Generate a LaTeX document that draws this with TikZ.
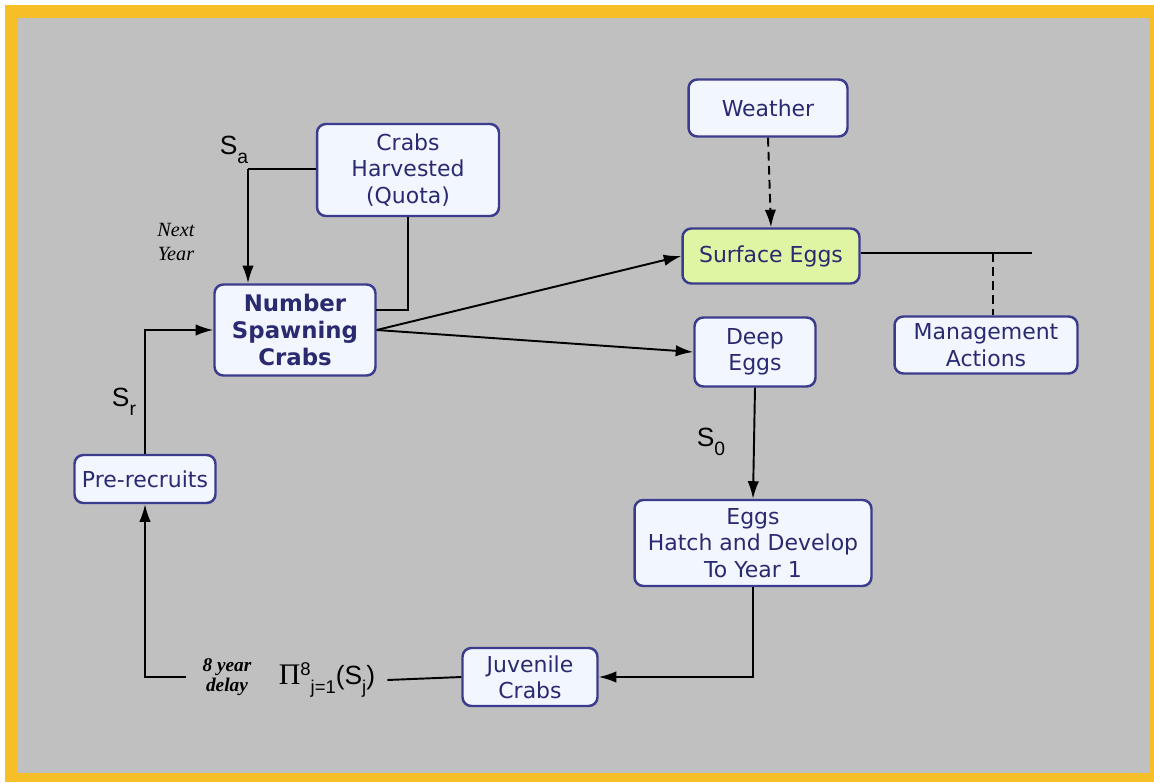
\documentclass[tikz,border=0pt]{standalone}
\usepackage{fontspec}
\setmainfont{DejaVu Sans}
\newfontfamily\lblfont{Liberation Sans}
\newfontfamily\serffont{Liberation Serif}
\usetikzlibrary{arrows.meta}

\definecolor{frameyellow}{HTML}{F6BE27}
\definecolor{panelgray}{HTML}{C0C0C0}
\definecolor{boxline}{HTML}{3C3C8E}
\definecolor{boxfill}{HTML}{F2F6FF}
\definecolor{boxtext}{HTML}{2A2A70}
\definecolor{eggfill}{HTML}{DFF5A4}

\newcommand{\sublab}[2]{{\lblfont\fontsize{15}{15}\selectfont #1\raisebox{-5pt}{\fontsize{11}{11}\selectfont #2}}}

\begin{document}
\begin{tikzpicture}[x=0.02cm, y=-0.02cm,
        box/.style={
        draw=boxline, line width=1.4pt, rounded corners=5pt,
        fill=boxfill, text=boxtext, align=center, inner sep=2pt,
        font=\fontsize{12.5}{15}\selectfont},
        conn/.style={line width=1.1pt, -{Latex[length=10pt,width=6.5pt]}},
        plain/.style={line width=1.1pt},
        longdash/.style={dash pattern=on 5pt off 3pt},
        note/.style={font=\serffont\itshape\fontsize{11.5}{14}\selectfont, align=center, inner sep=1pt},
        ]

        % frame and panel
        \useasboundingbox (0,0) rectangle (1154,782);
        \fill[white] (0,0) rectangle (1154,782);
        \fill[frameyellow] (5,5) rectangle (1154,782);
        \fill[panelgray] (18,18) rectangle (1149,773);

        % boxes
        \node (weather) [box, minimum width=3.18cm, minimum height=1.14cm] at (768,108) {Weather};
        \node (harvest) [box, minimum width=3.64cm, minimum height=1.84cm] at (408,170) {Crabs\\Harvested\\(Quota)};
        \node (surface) [box, fill=eggfill, minimum width=3.54cm, minimum height=1.1cm] at (771,256) {Surface Eggs};
        \node (spawn) [box, font=\bfseries\fontsize{13}{15.5}\selectfont, minimum width=3.22cm, minimum height=1.82cm] at (295,330) {Number\\Spawning\\Crabs};
        \node (deep) [box, minimum width=2.42cm, minimum height=1.38cm] at (755,352) {Deep\\Eggs};
        \node (manage) [box, minimum width=3.66cm, minimum height=1.14cm] at (986,345) {Management\\Actions};
        \node (prerec) [box, minimum width=2.82cm, minimum height=0.96cm] at (145,479) {Pre-recruits};
        \node (hatch) [box, minimum width=4.74cm, minimum height=1.72cm] at (753,543) {Eggs\\Hatch and Develop\\To Year 1};
        \node (juvenile) [box, minimum width=2.7cm, minimum height=1.16cm] at (530,677) {Juvenile\\Crabs};

        % labels
        \node (sa) at (234,150) {\sublab{S}{a}};
        \node (sr) at (124,402) {\sublab{S}{r}};
        \node (s0) at (711,442) {\sublab{S}{0}};
        \node (nextyr) [note] at (176,242) {Next\\Year};
        \node (delay) [note, font=\serffont\bfseries\itshape\fontsize{11}{11.5}\selectfont] at (227,677) {8 year\\delay};
        \node (prod) [inner sep=1pt, outer sep=6pt] at (327,680) {\lblfont\fontsize{15}{15}\selectfont{\serffont\fontsize{17}{17}\selectfont Π}\raisebox{5pt}{\fontsize{10.5}{10}\selectfont 8}\raisebox{-5pt}{\fontsize{10.5}{10}\selectfont j=1}(S\raisebox{-5pt}{\fontsize{10.5}{10}\selectfont j})};

        \coordinate (sacorner) at (248,169);
        \coordinate (quota) at (376,310);
        \coordinate (surfend) at (1032,253);
        \coordinate (mdash) at (993,253);

        % connectors
        \draw [plain] (harvest.west |- sacorner) -- (sacorner);
        \draw [conn] (sacorner) -- (sacorner |- spawn.north);
        \draw [plain] (harvest.south) |- (quota);
        \draw [conn] (spawn.east) -- (surface.west);
        \draw [conn] (spawn.east) -- (deep.west);
        \draw [conn, longdash] (weather.south) -- (surface.north);
        \draw [plain] (surface.east |- surfend) -- (surfend);
        \draw [plain, longdash] (mdash) -- (mdash |- manage.north);
        \draw [conn] (deep.south) -- (hatch.north);
        \draw [conn] (hatch.south) |- (juvenile.east);
        \draw [plain] (juvenile.west) -- (prod.east);
        \draw [conn] ([xshift=-8pt]delay.west) -| (prerec.south);
        \draw [conn] (prerec.north) |- (spawn.west);
    \end{tikzpicture}
\end{document}
